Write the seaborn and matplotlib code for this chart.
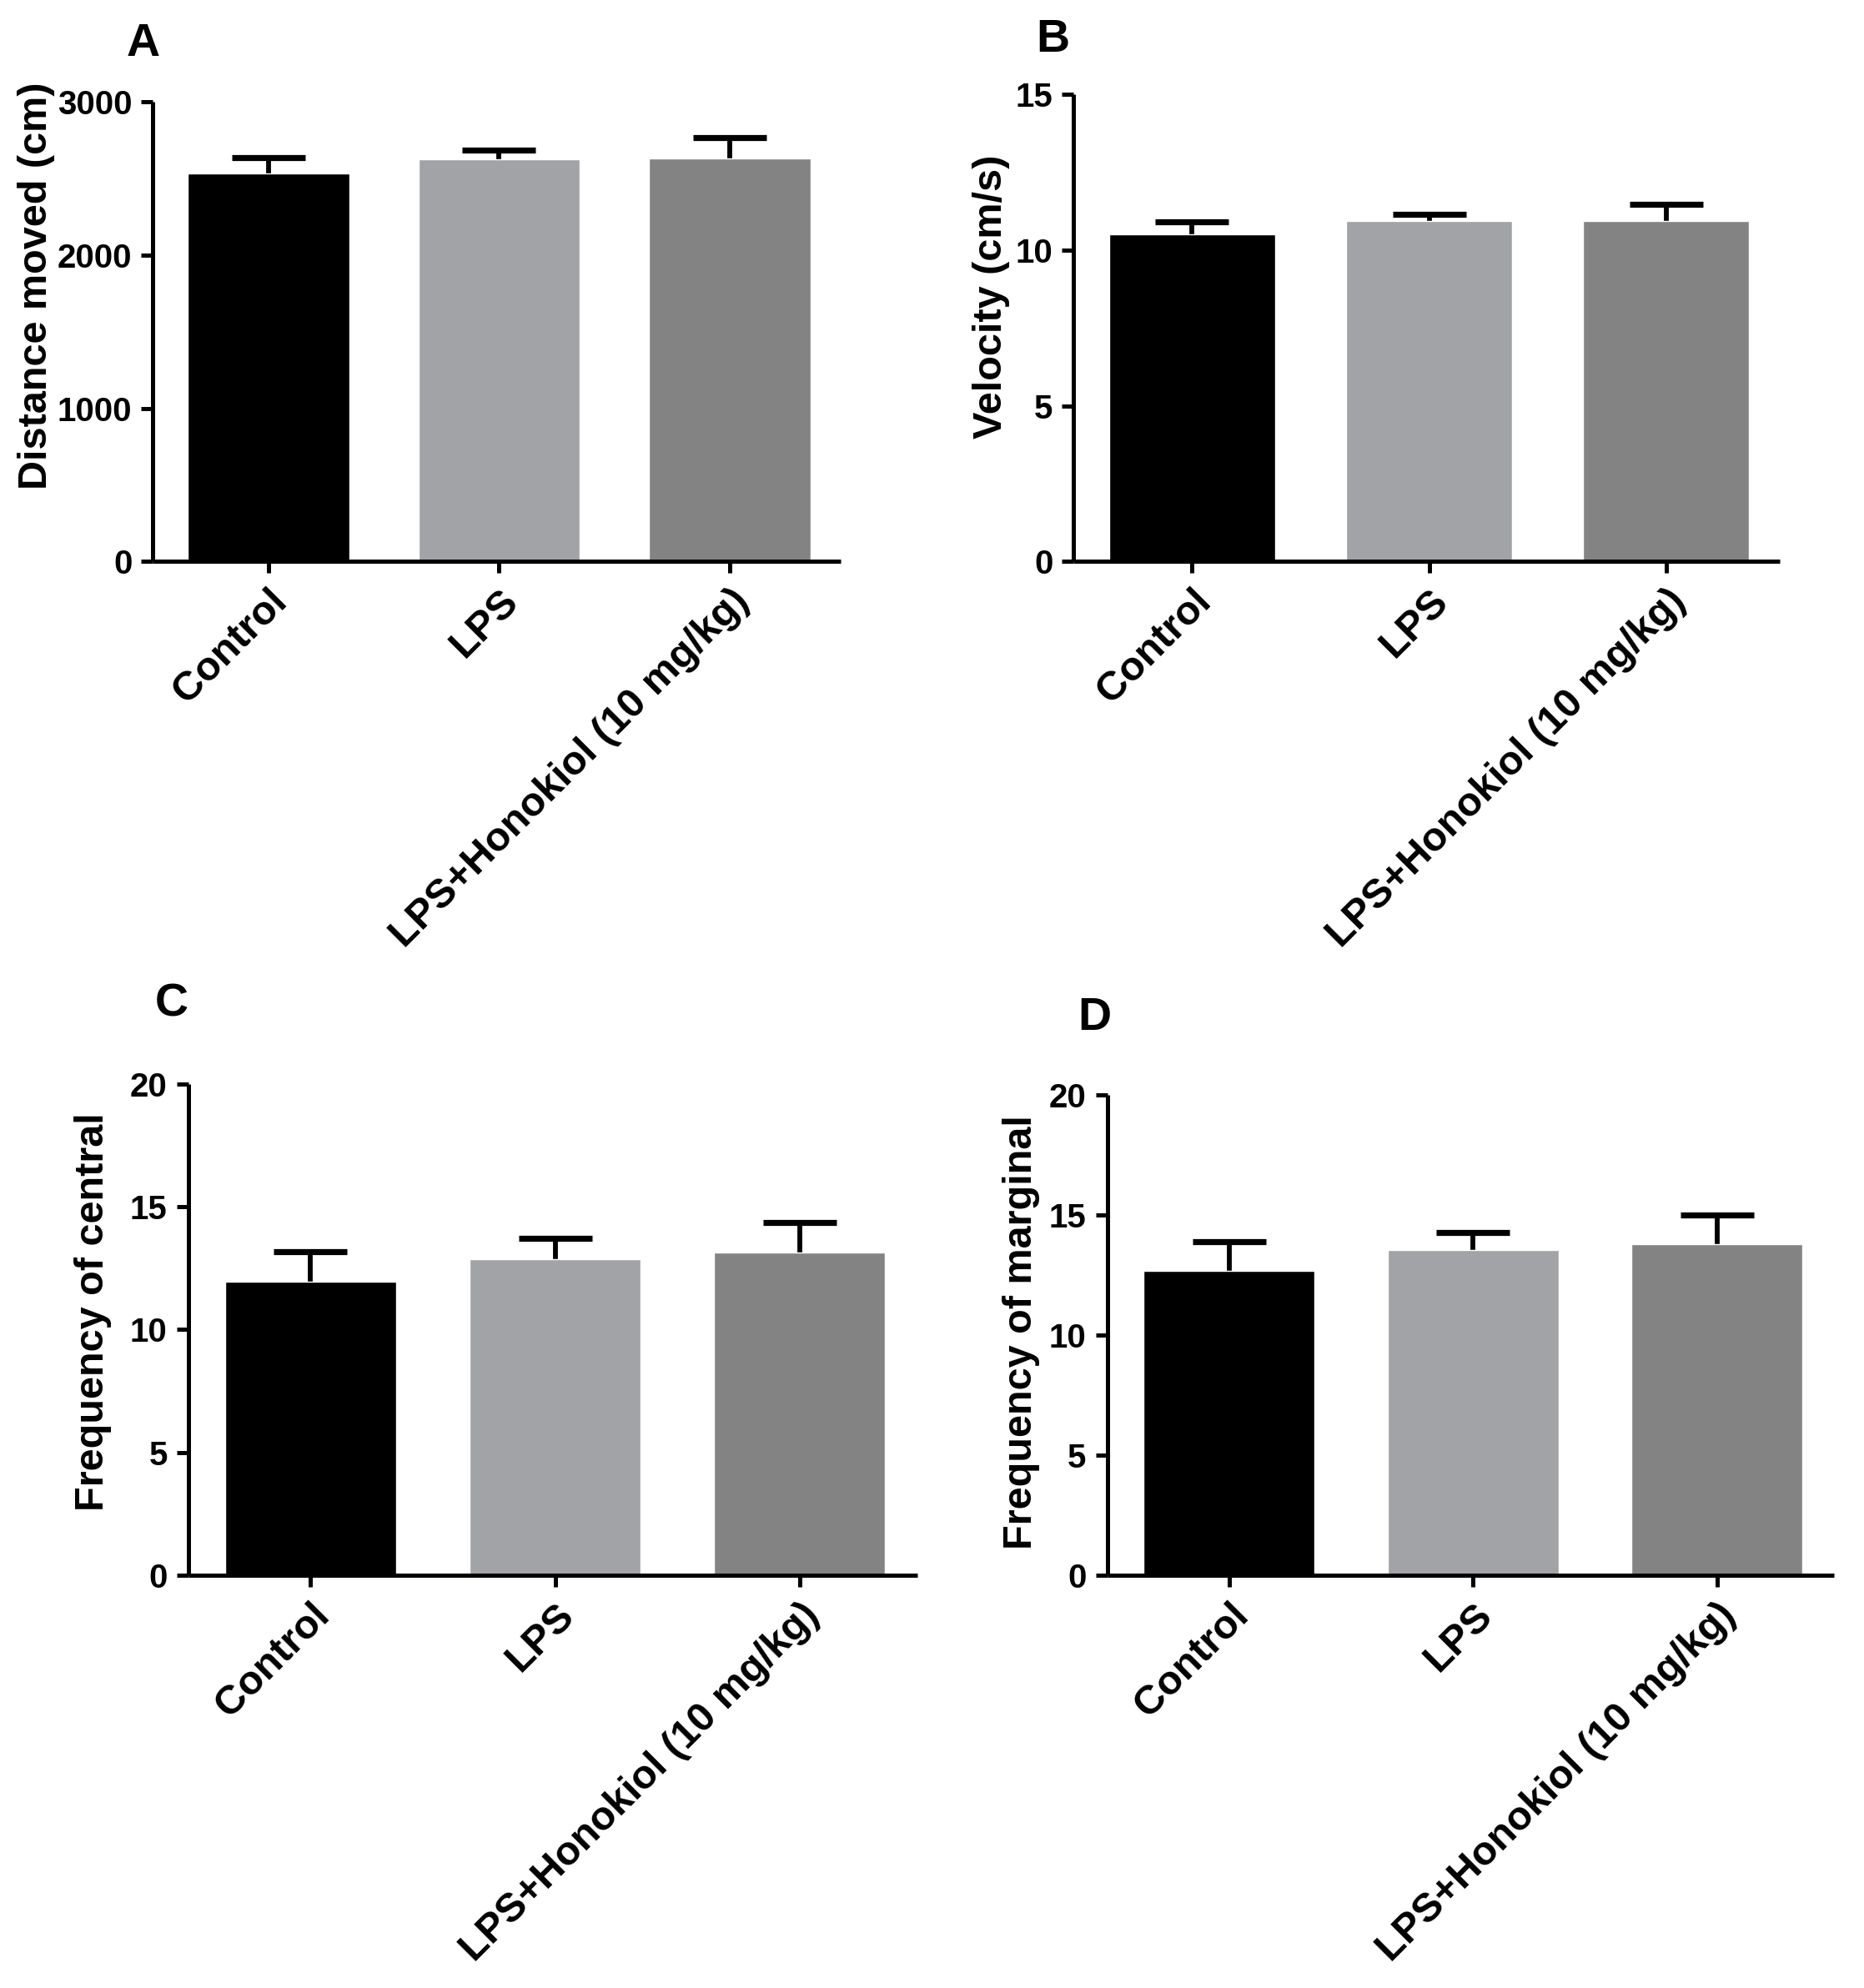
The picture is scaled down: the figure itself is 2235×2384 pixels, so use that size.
import numpy as np
import pandas as pd
import seaborn as sns
import matplotlib.pyplot as plt

groups = ["Control", "LPS", "LPS+Honokiol (10 mg/kg)"]
bar_colors = ["#000000", "#a2a3a7", "#838383"]

distance_mean = [2529, 2624, 2629]
distance_sem = [105, 57, 134]

velocity_mean = [10.52, 10.93, 10.93]
velocity_sem = [0.40, 0.21, 0.53]

central_mean = [11.95, 12.87, 13.12]
central_sem = [1.22, 0.84, 1.24]

marginal_mean = [12.67, 13.56, 13.81]
marginal_sem = [1.22, 0.72, 1.20]

panels = [
    # letter, means, sems, ylabel, ymax, yticks, axes rect, letter pos, ylabel coords
    ("A", distance_mean, distance_sem, "Distance moved (cm)", 3000, [0, 1000, 2000, 3000],
     [0.082, 0.7175, 0.369, 0.2315], (0.068, 0.967), (-0.142, 0.60)),
    ("B", velocity_mean, velocity_sem, "Velocity (cm/s)", 15, [0, 5, 10, 15],
     [0.576, 0.7175, 0.379, 0.235], (0.556, 0.969), (-0.090, 0.567)),
    ("C", central_mean, central_sem, "Frequency of central", 20, [0, 5, 10, 15, 20],
     [0.101, 0.2076, 0.391, 0.2472], (0.083, 0.484), (-0.105, 0.536)),
    ("D", marginal_mean, marginal_sem, "Frequency of marginal", 20, [0, 5, 10, 15, 20],
     [0.594, 0.2076, 0.390, 0.2415], (0.578, 0.477), (-0.093, 0.507)),
]

sns.set_style("ticks")
plt.rcParams["font.family"] = ["Liberation Sans", "DejaVu Sans"]
plt.rcParams["font.weight"] = "bold"
plt.rcParams["text.color"] = "black"
plt.rcParams["axes.labelcolor"] = "black"
plt.rcParams["xtick.color"] = "black"
plt.rcParams["ytick.color"] = "black"
plt.rcParams["axes.edgecolor"] = "black"

fig = plt.figure(figsize=(22.35, 23.84), dpi=100)
lw = 3.6

for letter, means, sems, ylabel, ymax, yticks, rect, lpos, lcoords in panels:
    ax = fig.add_axes(rect)
    df = pd.DataFrame({"group": groups, "value": means})
    sns.barplot(data=df, x="group", y="value", hue="group", palette=bar_colors,
                width=0.70, saturation=1, legend=False, ax=ax, zorder=2)
    x = np.arange(len(groups))
    # symmetric bars drawn under the columns, so only the upper half shows
    ax.errorbar(x, means, yerr=sems, fmt="none",
                ecolor="black", elinewidth=4.2, capsize=32, capthick=5.2,
                zorder=1)
    ax.set_xlim(-0.5, 2.48)
    ax.set_ylim(0, ymax)
    ax.set_yticks(yticks)
    ax.set_yticklabels([str(t) for t in yticks], fontsize=29, fontweight="bold")
    ax.set_xlabel("")
    ax.set_ylabel(ylabel, fontsize=35, fontweight="bold", color="black")
    ax.yaxis.set_label_coords(*lcoords)
    ax.set_xticks(x)
    ax.set_xticklabels(groups, rotation=45, ha="right", rotation_mode="anchor",
                       fontsize=35, fontweight="bold")
    ax.tick_params(axis="both", width=lw, length=10, direction="out", pad=8,
                   colors="black")
    sns.despine(ax=ax)
    for side in ["left", "bottom"]:
        ax.spines[side].set_linewidth(lw)
        ax.spines[side].set_color("black")
        ax.spines[side].set_capstyle("butt")
    fig.text(lpos[0], lpos[1], letter, fontsize=40, fontweight="bold",
             ha="left", va="bottom", color="black")

fig.savefig("out.png", dpi=100, facecolor="white")
